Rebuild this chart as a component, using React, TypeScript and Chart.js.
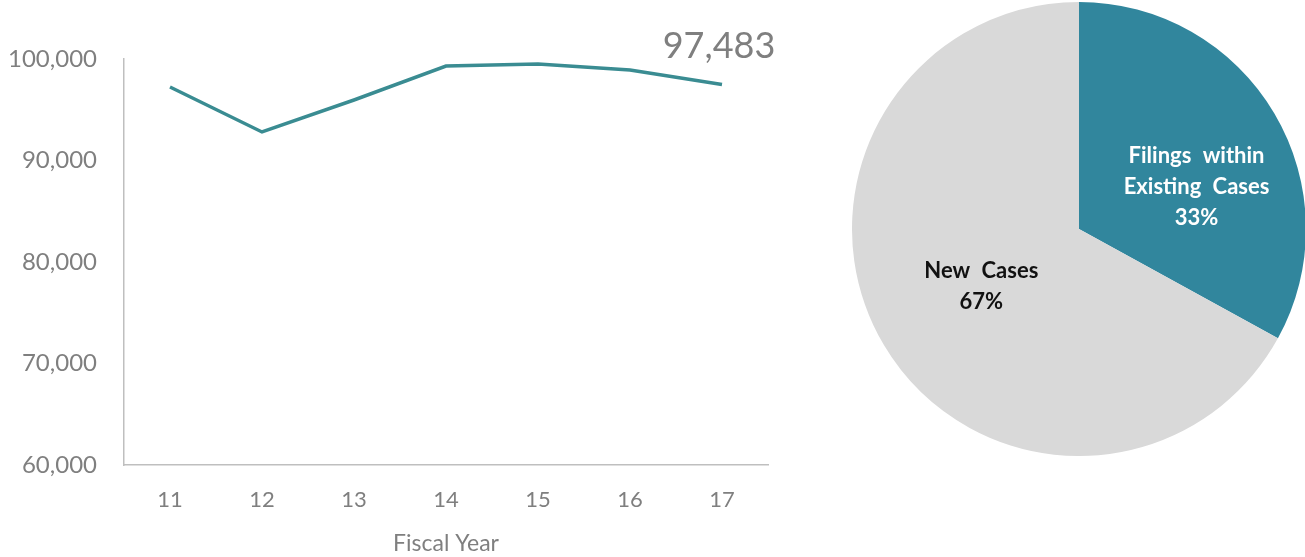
import React, { useEffect, useRef } from "react";
import { Chart, registerables } from "chart.js";

Chart.register(...registerables);

const years = ["11", "12", "13", "14", "15", "16", "17"];
const filings = [97240, 92810, 95960, 99310, 99510, 98920, 97483];
const lastLabel = "97,483";
const yTicks = [60000, 70000, 80000, 90000, 100000];
const xTitle = "Fiscal Year";

const pieLabels = ["Filings within|Existing Cases", "New Cases"];
const pieValues = [33, 67];
const pieColors = ["#31869D", "#D9D9D9"];
const pieTextColors = ["#FFFFFF", "#111111"];

const FONT = "Lato, 'Open Sans', sans-serif";

function LineChart() {
  const ref = useRef<HTMLCanvasElement>(null);
  useEffect(() => {
    const lastLabelPlugin = {
      id: "lastLabel",
      afterDatasetsDraw(chart: any) {
        const meta = chart.getDatasetMeta(0);
        const pt = meta.data[meta.data.length - 1];
        const ctx = chart.ctx;
        ctx.save();
        ctx.font = `36px ${FONT}`;
        ctx.fillStyle = "#7F7F7F";
        ctx.textAlign = "center";
        ctx.textBaseline = "middle";
        ctx.fillText(lastLabel, pt.x - 3, pt.y - 38);
        ctx.restore();
      },
    };
    const chart = new Chart(ref.current!, {
      type: "line",
      data: {
        labels: years,
        datasets: [
          {
            data: filings,
            borderColor: "#3A8C92",
            borderWidth: 3.5,
            pointRadius: 0,
            tension: 0,
            fill: false,
          },
        ],
      },
      options: {
        animation: false,
        responsive: false,
        layout: { padding: { top: 59, right: 32, left: 0, bottom: 0 } },
        plugins: { legend: { display: false }, tooltip: { enabled: false } },
        scales: {
          x: {
            offset: true,
            grid: { display: false, drawTicks: false },
            border: { display: true, color: "#BFBFBF", width: 1.5 },
            ticks: { color: "#7F7F7F", font: { family: FONT, size: 22 }, padding: 22 },
            title: {
              display: true,
              text: xTitle,
              color: "#7F7F7F",
              font: { family: FONT, size: 23 },
              padding: { top: 8, bottom: 0 },
            },
            afterFit: (axis: any) => {
              axis.height = 92;
            },
          },
          y: {
            min: 60000,
            max: 100000,
            afterBuildTicks: (axis: any) => {
              axis.ticks = yTicks.map((v) => ({ value: v }));
            },
            grid: { display: false, drawTicks: false },
            border: { display: true, color: "#BFBFBF", width: 1.5 },
            ticks: {
              color: "#7F7F7F",
              font: { family: FONT, size: 24 },
              padding: 27,
              callback: (v: any) => Number(v).toLocaleString("en-US"),
            },
            afterFit: (axis: any) => {
              axis.width = 124;
            },
          },
        },
      },
      plugins: [lastLabelPlugin],
    });
    return () => chart.destroy();
  }, []);
  return (
    <canvas
      ref={ref}
      width={800}
      height={557}
      style={{ position: "absolute", left: 0, top: 0, width: 800, height: 557 }}
    />
  );
}

function PieChart() {
  const ref = useRef<HTMLCanvasElement>(null);
  useEffect(() => {
    const labelPlugin = {
      id: "pieLabels",
      afterDatasetsDraw(chart: any) {
        const meta = chart.getDatasetMeta(0);
        const ctx = chart.ctx;
        const total = pieValues.reduce((a, b) => a + b, 0);
        meta.data.forEach((arc: any, i: number) => {
          const mid = (arc.startAngle + arc.endAngle) / 2;
          const frac = i === 0 ? 0.55 : 0.5;
          const shift = i === 0 ? 0.19 : 0;
          const ang = mid + shift;
          const cx = arc.x + Math.cos(ang) * arc.outerRadius * frac;
          const cy = arc.y + Math.sin(ang) * arc.outerRadius * frac;
          const lines = pieLabels[i].split("|");
          lines.push(Math.round((pieValues[i] / total) * 100) + "%");
          const lh = 31;
          ctx.save();
          ctx.font = `bold 22px ${FONT}`;
          try {
            (ctx as any).wordSpacing = "6px";
          } catch (e) {}
          ctx.fillStyle = pieTextColors[i];
          ctx.textAlign = "center";
          ctx.textBaseline = "middle";
          lines.forEach((ln, j) => {
            ctx.fillText(ln, cx, cy + (j - (lines.length - 1) / 2) * lh);
          });
          ctx.restore();
        });
      },
    };
    const chart = new Chart(ref.current!, {
      type: "pie",
      data: {
        labels: pieLabels.map((l) => l.replace("|", " ")),
        datasets: [
          {
            data: pieValues,
            backgroundColor: pieColors,
            borderWidth: 0,
          },
        ],
      },
      options: {
        animation: false,
        responsive: false,
        layout: { padding: 0 },
        plugins: { legend: { display: false }, tooltip: { enabled: false } },
      },
      plugins: [labelPlugin],
    });
    return () => chart.destroy();
  }, []);
  return (
    <canvas
      ref={ref}
      width={454}
      height={454}
      style={{ position: "absolute", left: 852, top: 2, width: 454, height: 454 }}
    />
  );
}

export default function App() {
  return (
    <div
      style={{
        position: "absolute",
        left: 0,
        top: 0,
        width: 1305,
        height: 557,
        overflow: "hidden",
        background: "#FFFFFF",
      }}
    >
      <LineChart />
      <PieChart />
    </div>
  );
}
